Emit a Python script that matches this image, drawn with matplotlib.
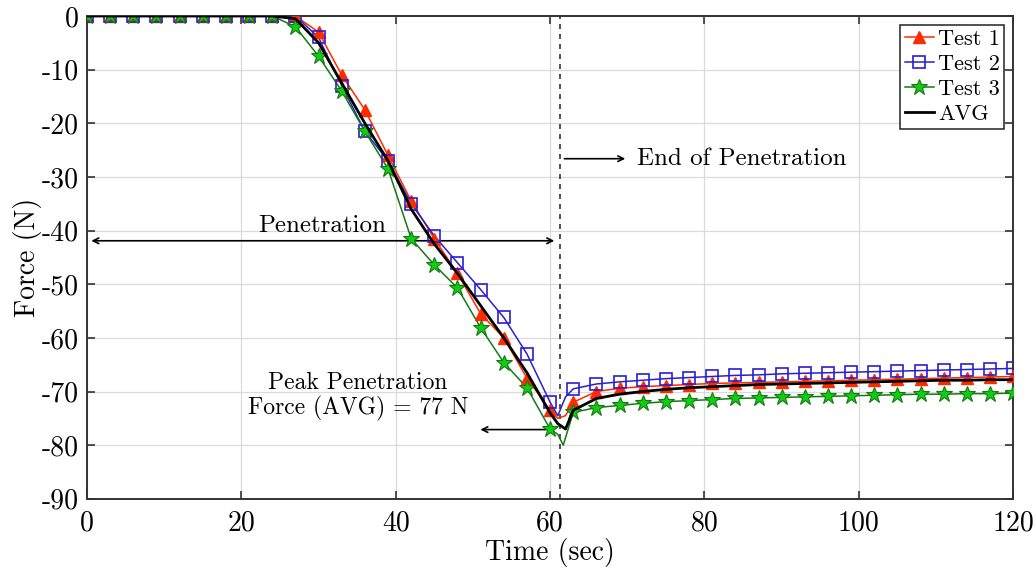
import numpy as np
import matplotlib
matplotlib.use('Agg')
import matplotlib.pyplot as plt

plt.rcParams['font.family'] = ['cmr10', 'DejaVu Serif']
plt.rcParams['axes.unicode_minus'] = False
plt.rcParams['mathtext.fontset'] = 'cm'

# marker grid (every 3 s)
t_grid = list(range(0, 121, 3))

test1 = [0, 0, 0, 0, 0, 0, 0, 0, 0, 0, -3, -11, -17.5, -26, -34.5, -41.5, -48, -55.5, -60, -67.5,
         -73.5, -72, -70, -69.4, -69.1, -68.9, -68.7, -68.5, -68.4, -68.3, -68.2, -68.1, -68.0,
         -67.9, -67.8, -67.7, -67.6, -67.5, -67.4, -67.3, -67.2]
test2 = [0, 0, 0, 0, 0, 0, 0, 0, 0, 0, -4, -13, -21.5, -27, -35, -41, -46, -51, -56.2, -63,
         -72, -69.5, -68.6, -68.2, -67.9, -67.6, -67.4, -67.2, -67.0, -66.9, -66.7, -66.6, -66.5,
         -66.4, -66.3, -66.2, -66.1, -66.0, -65.9, -65.8, -65.7]
test3 = [0, 0, 0, 0, 0, 0, 0, 0, 0, -2, -7.5, -14, -21.5, -28.5, -41.5, -46.4, -50.7, -58.1, -64.6,
         -69.3, -77, -73.9, -73, -72.6, -72.2, -71.9, -71.7, -71.5, -71.3, -71.2, -71.1, -71.0,
         -70.9, -70.8, -70.7, -70.6, -70.5, -70.5, -70.4, -70.4, -70.3]
avg = [0, 0, 0, 0, 0, 0, 0, 0, 0, -0.5, -5, -12.5, -20, -27, -36, -42.5, -48, -54, -60, -66.5,
       -74, -73.5, -71.3, -70.5, -70.0, -69.6, -69.3, -69.1, -68.9, -68.7, -68.6, -68.5, -68.4,
       -68.3, -68.2, -68.1, -68.0, -67.9, -67.9, -67.8, -67.8]

# extra points around the peak (t, value)
peak1 = [(61, -75), (62, -74.5)]
peak2 = [(61, -74.5), (62, -71)]
peak3 = [(61, -78), (61.7, -80)]
peak_avg = [(61, -76), (62, -77)]


def merge(vals, extra):
    pts = sorted(list(zip(t_grid, vals)) + extra)
    return [p[0] for p in pts], [p[1] for p in pts]


fig = plt.figure(figsize=(10.36, 5.72), dpi=100)
ax = fig.add_axes([0.084, 0.128, 0.894, 0.844])

series = [
    (test1, peak1, '#ff2a00', dict(marker='^', ms=9, mfc='#ff2a00', mec='#ff2a00'), 'Test 1'),
    (test2, peak2, '#2a1fd0', dict(marker='s', ms=8, mfc='none', mec='#2a1fd0', mew=1.2), 'Test 2'),
    (test3, peak3, '#137a13', dict(marker='*', ms=12, mfc='#11cc11', mec='#137a13', mew=0.8), 'Test 3'),
]
for vals, extra, col, mk, lab in series:
    tx, ty = merge(vals, extra)
    ax.plot(tx, ty, color=col, lw=1.1, zorder=3)
    ax.plot(t_grid, vals, ls='none', zorder=4, **mk)
    # legend proxy
    ax.plot([], [], color=col, lw=1.1, label=lab, **mk)

tx, ty = merge(avg, peak_avg)
ax.plot(tx, ty, color='black', lw=2, zorder=5, label='AVG')

ax.set_xlim(0, 120)
ax.set_ylim(-90, 0)
ax.set_xticks(range(0, 121, 20))
ax.set_yticks(range(-90, 1, 10))
ax.grid(True, color='#dadada', lw=0.9)
ax.set_axisbelow(True)
ax.tick_params(direction='in', top=True, right=True, labelsize=20, length=6, width=1.2,
               color='#333333', pad=6)
ax.tick_params(axis='x', pad=8)
for s in ax.spines.values():
    s.set_color('#333333')
    s.set_linewidth(1.4)
ax.set_xlabel('Time (sec)', fontsize=20, labelpad=1)
ax.set_ylabel('Force (N)', fontsize=20, labelpad=0)

# annotations
ax.axvline(61.3, color='#333333', ls=(0, (3, 3)), lw=1.2, zorder=2)
ax.annotate('', xy=(70.1, -26.6), xytext=(61.5, -26.6),
            arrowprops=dict(arrowstyle='->', color='black', lw=1.2))
ax.text(71.3, -26.6, 'End of Penetration', fontsize=18, va='center', ha='left')
ax.annotate('', xy=(0.2, -41.9), xytext=(60.9, -41.9),
            arrowprops=dict(arrowstyle='<->', color='black', lw=1.2))
ax.text(30.4, -39.2, 'Penetration', fontsize=18, va='center', ha='center')
ax.text(35.1, -71.0, 'Peak Penetration\nForce (AVG) = 77 N', fontsize=17, va='center',
        ha='center', linespacing=1.1)
ax.annotate('', xy=(50.6, -77.1), xytext=(59.8, -77.1),
            arrowprops=dict(arrowstyle='->', color='black', lw=1.2))

leg = ax.legend(loc='upper right', fontsize=16, frameon=True, fancybox=False,
                edgecolor='#333333', framealpha=1, handlelength=1.3, handletextpad=0.2,
                borderpad=0.2, labelspacing=0.25, borderaxespad=0.4)
leg.get_frame().set_linewidth(1.2)

fig.savefig('out.png', dpi=100)
